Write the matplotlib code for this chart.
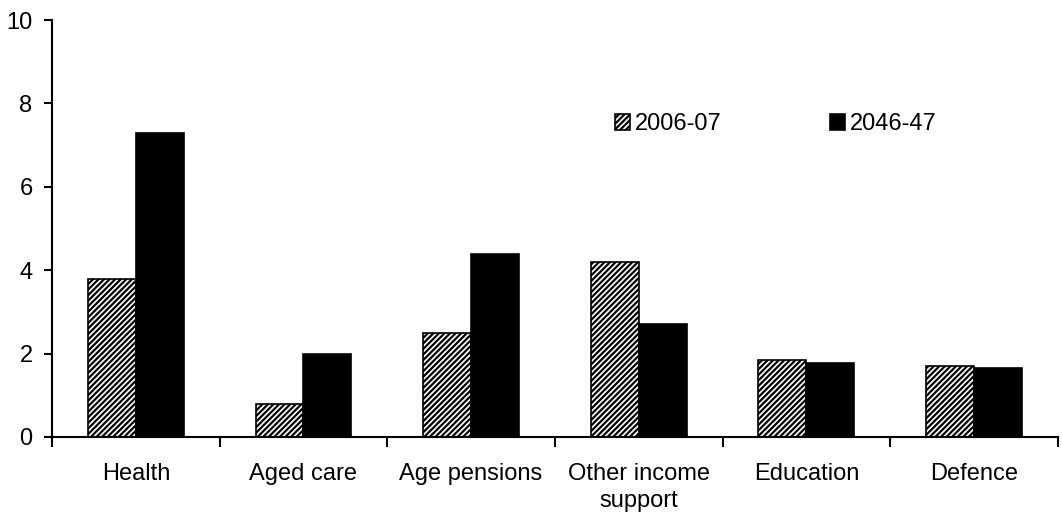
import matplotlib.pyplot as plt
import numpy as np

plt.rcParams['font.family'] = ['Liberation Sans', 'DejaVu Sans']
plt.rcParams['hatch.linewidth'] = 1.6

categories = ["Health", "Aged care", "Age pensions", "Other income\nsupport", "Education", "Defence"]
series_2006 = [3.8, 0.8, 2.5, 4.2, 1.85, 1.7]
series_2046 = [7.3, 2.0, 4.4, 2.7, 1.78, 1.65]

fig = plt.figure(figsize=(10.62, 5.15), dpi=100)
ax = fig.add_axes([0.049, 0.1515, 0.947, 0.8095])

x = np.arange(len(categories))
w = 0.286
ax.bar(x - w / 2, series_2006, w, color="white", edgecolor="black", hatch="//////",
       linewidth=1.2, label="2006-07")
ax.bar(x + w / 2, series_2046, w, color="black", edgecolor="black", linewidth=1.2,
       label="2046-47")

ax.set_xlim(-0.5, len(categories) - 0.5)
ax.set_ylim(0, 10)
ax.set_yticks([0, 2, 4, 6, 8, 10])
ax.set_xticks(x)
ax.set_xticklabels(categories, fontsize=17, linespacing=1.27)
ax.tick_params(axis="x", length=0, pad=19)
ax.set_xticks(np.arange(-0.5, len(categories)), minor=True)
ax.tick_params(axis="x", which="minor", length=7, width=1.5, direction="out")
ax.tick_params(axis="y", labelsize=17, length=6, width=1.5, direction="out", pad=8)

for s in ["top", "right"]:
    ax.spines[s].set_visible(False)
for s in ["left", "bottom"]:
    ax.spines[s].set_linewidth(1.5)

ax.legend(loc="center left", bbox_to_anchor=(0.539, 0.75), ncol=2, frameon=False,
          fontsize=17, handlelength=0.62, handleheight=0.62, handletextpad=0.2,
          columnspacing=4.6)

fig.savefig("out.png", dpi=100)
